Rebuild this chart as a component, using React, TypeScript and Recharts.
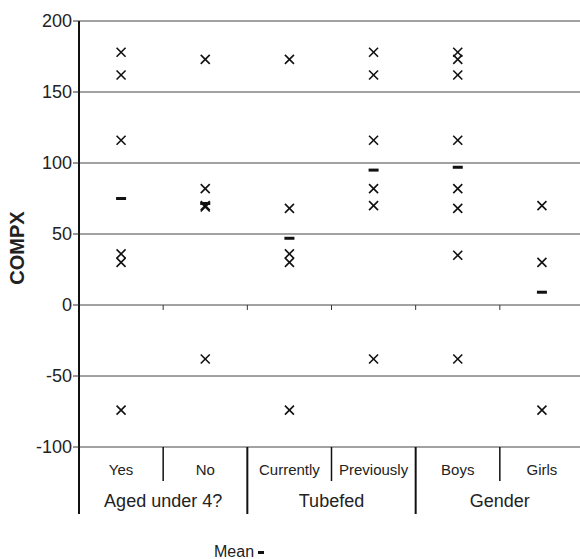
import React from "react";
import {
  ComposedChart,
  Scatter,
  XAxis,
  YAxis,
  CartesianGrid,
  ReferenceLine,
} from "recharts";

const categories = ["Yes", "No", "Currently", "Previously", "Boys", "Girls"];
const groups = ["Aged under 4?", "Tubefed", "Gender"];

// individual COMPX values per category
const yesValues = [178, 162, 116, 36, 30, -74];
const noValues = [173, 82, 70, 69, -38];
const currentlyValues = [173, 68, 36, 30, -74];
const previouslyValues = [178, 162, 116, 82, 70, -38];
const boysValues = [178, 173, 162, 116, 82, 68, 35, -38];
const girlsValues = [70, 30, -74];

const meanValues = [75, 71.5, 47, 95, 97, 9];

const yTicks = [-100, -50, 0, 50, 100, 150, 200];

const FONT = "'Liberation Sans', Arial, sans-serif";

const allValues = [
  yesValues,
  noValues,
  currentlyValues,
  previouslyValues,
  boysValues,
  girlsValues,
];

const pointData = allValues.flatMap((vals, i) =>
  vals.map((v) => ({ x: i + 0.5, y: v }))
);
const meanData = meanValues.map((v, i) => ({ x: i + 0.5, y: v }));

const xTicks = [0, 0.5, 1, 1.5, 2, 2.5, 3, 3.5, 4, 4.5, 5, 5.5];

const Cross = (props: any) => {
  const { cx, cy } = props;
  const s = 4.5;
  return (
    <g stroke="#111" strokeWidth={1.6}>
      <line x1={cx - s} y1={cy - s} x2={cx + s} y2={cy + s} />
      <line x1={cx - s} y1={cy + s} x2={cx + s} y2={cy - s} />
    </g>
  );
};

const Dash = (props: any) => {
  const { cx, cy } = props;
  return <rect x={cx - 5} y={cy - 1.5} width={10} height={3} fill="#111" />;
};

const CategoryTick = (props: any) => {
  const { x, y, payload } = props;
  const v = payload.value as number;
  if (Number.isInteger(v)) {
    // separators: group borders are long, inner borders short + group label
    const long = v % 2 === 0;
    return (
      <g>
        <line
          x1={x}
          x2={x}
          y1={y}
          y2={y + (long ? 67 : 34)}
          stroke="#111"
          strokeWidth={long ? 2 : 1.5}
        />
        {!long && (
          <text
            x={x}
            y={y + 60}
            textAnchor="middle"
            fontSize={18}
            fill="#222"
            fontFamily={FONT}
          >
            {groups[(v - 1) / 2]}
          </text>
        )}
      </g>
    );
  }
  return (
    <text
      x={x}
      y={y + 28}
      textAnchor="middle"
      fontSize={15}
      fill="#222"
      fontFamily={FONT}
    >
      {categories[Math.floor(v)]}
    </text>
  );
};

const App = () => {
  return (
    <div
      style={{
        position: "absolute",
        left: 0,
        top: 0,
        width: 580,
        height: 559,
        overflow: "hidden",
        background: "#fff",
        fontFamily: FONT,
      }}
    >
      <ComposedChart
        width={600}
        height={559}
        margin={{ top: 21, right: 16, left: 0, bottom: 0 }}
      >
        <CartesianGrid
          vertical={false}
          stroke="#444"
          strokeWidth={1}
        />
        <XAxis
          type="number"
          dataKey="x"
          domain={[0, 6]}
          ticks={xTicks}
          interval={0}
          height={112}
          axisLine={false}
          tickLine={false}
          tickSize={0}
          tickMargin={0}
          tick={<CategoryTick />}
        />
        <YAxis
          type="number"
          dataKey="y"
          domain={[-100, 200]}
          ticks={yTicks}
          interval={0}
          width={79}
          axisLine={{ stroke: "#111", strokeWidth: 2 }}
          tickLine={{ stroke: "#333" }}
          tickSize={6}
          tickMargin={1}
          tick={{ fontSize: 18, fill: "#222", fontFamily: FONT }}
          label={{
            content: () => (
              <text
                x={24}
                y={248}
                transform="rotate(-90 24 248)"
                textAnchor="middle"
                fontSize={20}
                fontWeight="bold"
                fill="#222"
                fontFamily={FONT}
              >
                COMPX
              </text>
            ),
          }}
        />
        {[1, 2, 3, 4, 5].map((b) => (
          <ReferenceLine
            key={b}
            segment={[
              { x: b, y: 0 },
              { x: b, y: -3.5 },
            ]}
            stroke="#333"
            strokeWidth={1}
          />
        ))}
        <Scatter
          data={pointData}
          shape={<Cross />}
          isAnimationActive={false}
        />
        <Scatter
          data={meanData}
          shape={<Dash />}
          isAnimationActive={false}
        />
      </ComposedChart>
      <div
        style={{
          position: "absolute",
          left: 214,
          top: 544,
          fontSize: 16,
          lineHeight: "16px",
          color: "#222",
          whiteSpace: "nowrap",
        }}
      >
        Mean{" "}
        <span
          style={{
            display: "inline-block",
            width: 6,
            height: 3,
            background: "#111",
            verticalAlign: "middle",
          }}
        />
      </div>
    </div>
  );
};

export default App;
